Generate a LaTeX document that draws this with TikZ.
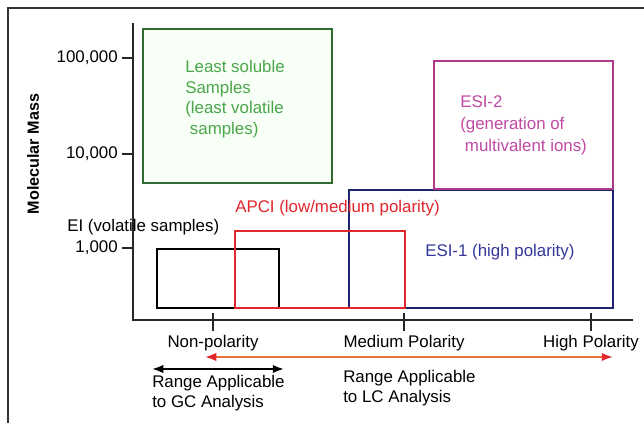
\documentclass[tikz,border=0pt]{standalone}
\usepackage{fontspec}
\setmainfont{Liberation Sans}
\usetikzlibrary{arrows.meta,positioning}
\definecolor{grnline}{HTML}{2F6B2F}
\definecolor{grntext}{HTML}{4CA64C}
\definecolor{magline}{HTML}{B03A8A}
\definecolor{magtext}{HTML}{C04AA4}
\definecolor{navyline}{HTML}{1E2470}
\definecolor{navytext}{HTML}{34389A}
\definecolor{apci}{HTML}{E2262C}
\definecolor{lcline}{HTML}{E8733A}
\definecolor{frame}{HTML}{333333}

\begin{document}
\begin{tikzpicture}[x=0.025cm,y=-0.025cm,>=Latex,
  lab/.style={font=\fontsize{12}{15}\selectfont,inner sep=0pt},
  lefttxt/.style={lab,align=left,anchor=west},
  axis/.style={line width=1.9pt,black!85},
  tick/.style={line width=1.4pt,black!85},
  band/.style={line width=1.6pt}]
  \useasboundingbox (0,0) rectangle (644,423);
  \fill[white] (0,0) rectangle (644,423);
  \draw[frame,line width=1pt] (8,423)--(8,8)--(644,8);
  % axes
  \coordinate (o) at (133,320);
  \coordinate (ytop) at (133,23);
  \coordinate (xend) at (633,320);
  \draw[axis] (ytop)--(o)--(xend);
  \foreach \y/\t in {58/100{,}000,154/10{,}000,248/1{,}000}{
    \draw[tick] (122,\y)--(133,\y);
    \node[lab,anchor=east] at (118,\y) {\t};}
  \node[lab,font=\bfseries\fontsize{11.5}{13}\selectfont,rotate=90] (ylab) at (33,154) {Molecular Mass};
  % ranges
  \draw[band,grnline,fill=green!3] (143,29) rectangle (332,183);
  \draw[band,black] (157,249) rectangle (279,308);
  \draw[band,navyline] (349,190) rectangle (613,308);
  \draw[band,apci] (235,231) rectangle (405,308);
  \draw[band,magline] (434,61) rectangle (613,189);
  \node[lefttxt,grntext,font=\fontsize{12}{14.7}\selectfont] (lsol) at (185,99)
    {Least soluble\\Samples\\(least volatile\\\ samples)};
  \node[lefttxt,magtext,font=\fontsize{12}{15.6}\selectfont] (esi2) at (460,125)
    {ESI-2\\(generation of\\\ multivalent ions)};
  \node[lefttxt] (ei) at (67,227) {EI (volatile samples)};
  \node[lefttxt,apci] (apcilab) at (235,208) {APCI (low/medium polarity)};
  \node[lefttxt,navytext] (esi1) at (425,252) {ESI-1 (high polarity)};
  % polarity ticks
  \foreach \x/\t/\n in {213/Non-polarity/nonp,404/Medium Polarity/medp,591/High Polarity/highp}{
    \draw[tick] (\x,313)--(\x,331);
    \node[lab] (\n) at (\x,343) {\t};}
  % applicable ranges
  \coordinate (lcL) at (205,357);
  \coordinate (lcR) at (613,357);
  \draw[{Latex[length=8pt,color=apci]}-{Latex[length=8pt,color=apci]},lcline,line width=1.4pt] (lcL)--(lcR);
  \coordinate (gcL) at (152,369);
  \coordinate (gcR) at (284,369);
  \draw[{Latex[length=8pt]}-{Latex[length=8pt]},black,line width=1.4pt] (gcL)--(gcR);
  \node[lefttxt,font=\fontsize{12}{14.5}\selectfont] (gc) at (152,393) {Range Applicable\\to GC Analysis};
  \node[lefttxt,font=\fontsize{12}{14.5}\selectfont] (lc) at (343,388) {Range Applicable\\to LC Analysis};
\end{tikzpicture}
\end{document}
